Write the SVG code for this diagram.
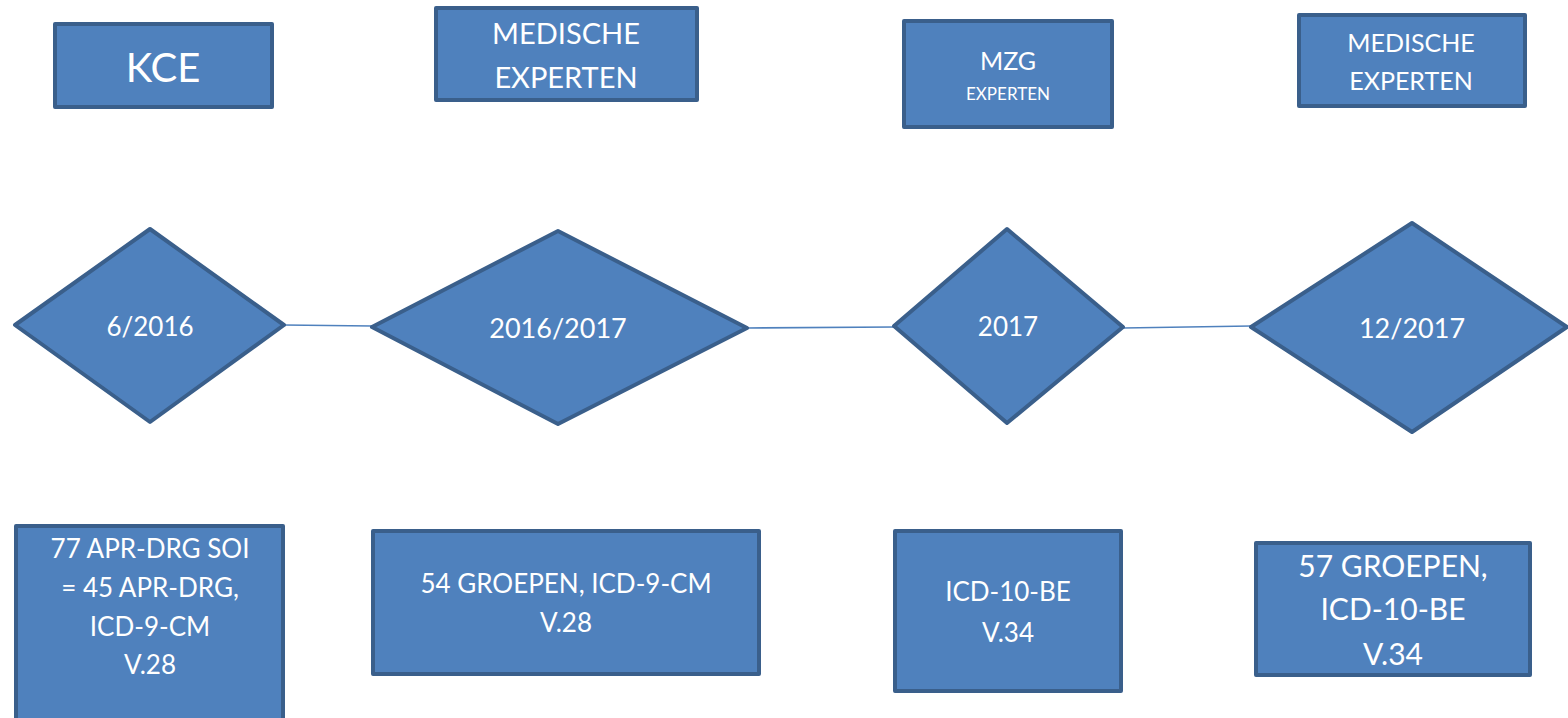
<svg xmlns="http://www.w3.org/2000/svg" width="1568" height="718" viewBox="0 0 1568 718">
<style>
.s{fill:#4F81BD;stroke:#3A5F8B;stroke-width:4;stroke-linejoin:round}
.t{fill:#FFFFFF;font-family:Lato,"Open Sans","Liberation Sans",sans-serif;text-anchor:middle}
.c{stroke:#4F81BD;stroke-width:1.6;fill:none}
</style>
<rect width="1568" height="718" fill="#FFFFFF"/>
<g id="connectors">
<line class="c" x1="284" y1="325" x2="372" y2="326"/>
<line class="c" x1="747" y1="328" x2="894" y2="327"/>
<line class="c" x1="1123" y1="328" x2="1251" y2="326"/>
</g>
<g id="kce"><rect class="s" x="55" y="24" width="217" height="83"/><text class="t" x="163" y="82" font-size="40">KCE</text></g>
<g id="medische1"><rect class="s" x="436" y="8" width="261" height="92"/><text class="t" x="566" y="44" font-size="29">MEDISCHE</text><text class="t" x="566" y="88" font-size="29">EXPERTEN</text></g>
<g id="mzg"><rect class="s" x="904" y="21" width="208" height="106"/><text class="t" x="1008" y="70" font-size="25">MZG</text><text class="t" x="1008" y="100" font-size="17">EXPERTEN</text></g>
<g id="medische2"><rect class="s" x="1299" y="15" width="226" height="91"/><text class="t" x="1411" y="52" font-size="25">MEDISCHE</text><text class="t" x="1411" y="90" font-size="25">EXPERTEN</text></g>
<g id="d1"><polygon class="s" points="15,325 150,229 284,325 150,422"/><text class="t" x="150" y="336" font-size="26">6/2016</text></g>
<g id="d2"><polygon class="s" points="372,327 558,231 747,328 558,424"/><text class="t" x="558" y="338" font-size="27">2016/2017</text></g>
<g id="d3"><polygon class="s" points="894,326 1007,229 1123,327 1007,423"/><text class="t" x="1008" y="336" font-size="26">2017</text></g>
<g id="d4"><polygon class="s" points="1251,327 1412,223 1567,327 1412,432"/><text class="t" x="1412" y="338" font-size="27">12/2017</text></g>
<g id="b1"><rect class="s" x="16" y="526" width="267" height="196"/><text class="t" x="150" y="558" font-size="26">77 APR-DRG SOI</text><text class="t" x="150" y="597" font-size="26">= 45 APR-DRG,</text><text class="t" x="150" y="636" font-size="26">ICD-9-CM</text><text class="t" x="150" y="674" font-size="26">V.28</text></g>
<g id="b2"><rect class="s" x="373" y="531" width="386" height="143"/><text class="t" x="566" y="593" font-size="26">54 GROEPEN, ICD-9-CM</text><text class="t" x="566" y="632" font-size="26">V.28</text></g>
<g id="b3"><rect class="s" x="895" y="531" width="226" height="160"/><text class="t" x="1008" y="601" font-size="26">ICD-10-BE</text><text class="t" x="1008" y="642" font-size="26">V.34</text></g>
<g id="b4"><rect class="s" x="1256" y="543" width="274" height="132"/><text class="t" x="1393" y="577" font-size="30">57 GROEPEN,</text><text class="t" x="1393" y="620" font-size="30">ICD-10-BE</text><text class="t" x="1393" y="665" font-size="30">V.34</text></g>
</svg>
